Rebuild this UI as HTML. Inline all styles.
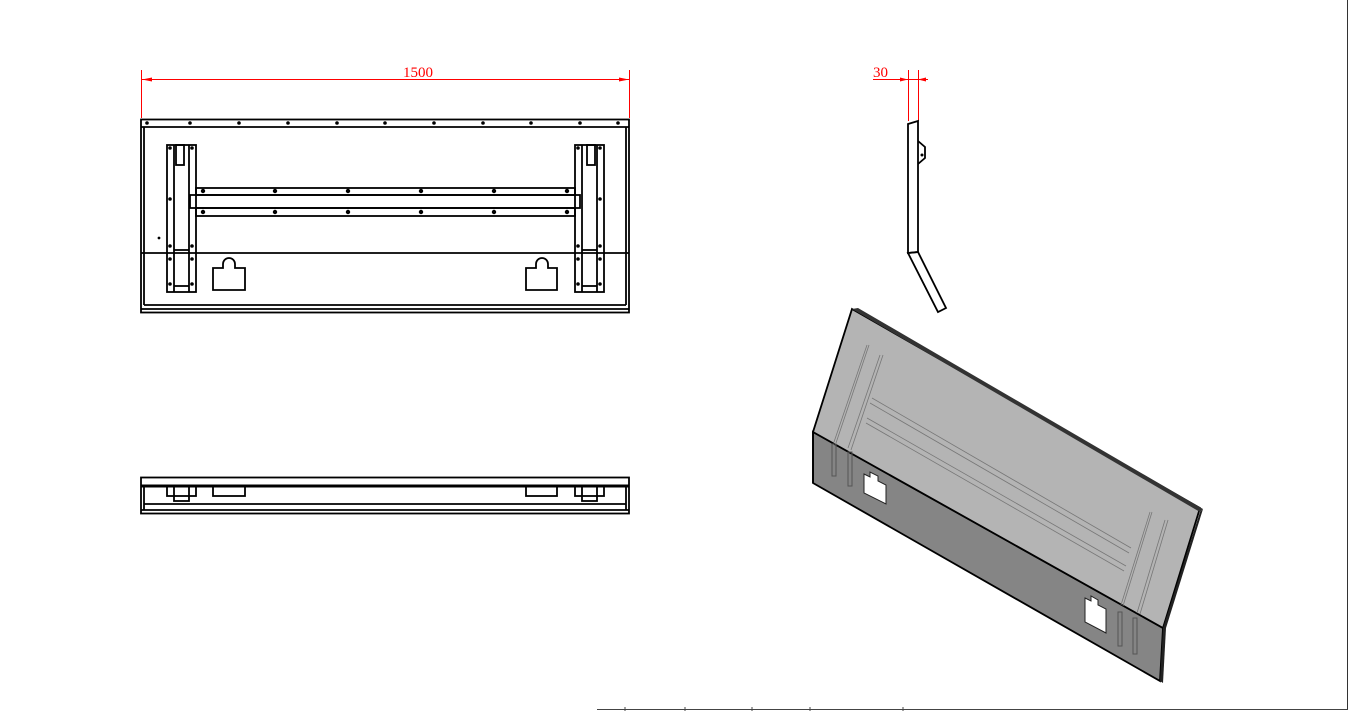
<!DOCTYPE html>
<html><head><meta charset="utf-8"><style>html,body{margin:0;padding:0;background:#fff}svg{display:block}</style></head>
<body>
<svg width="1350" height="711" viewBox="0 0 1350 711" xmlns="http://www.w3.org/2000/svg" font-family="Liberation Serif, serif">
<rect width="1350" height="711" fill="#fff"/>
<line x1="1347.5" y1="0" x2="1347.5" y2="710" stroke="#333" stroke-width="1"/>
<line x1="597" y1="709.5" x2="1348" y2="709.5" stroke="#444" stroke-width="1"/>
<g stroke="#444" stroke-width="1"><line x1="625" y1="707" x2="625" y2="711"/><line x1="685" y1="707" x2="685" y2="711"/><line x1="752" y1="707" x2="752" y2="711"/><line x1="810" y1="707" x2="810" y2="711"/><line x1="903" y1="707" x2="903" y2="711"/></g>

<g stroke="#f00" stroke-width="1" fill="#f00">
<line x1="141.5" y1="70" x2="141.5" y2="118"/>
<line x1="629.5" y1="70" x2="629.5" y2="118"/>
<line x1="142" y1="79.5" x2="629" y2="79.5"/>
<polygon points="142,79.5 152,77.5 152,81.5" stroke="none"/>
<polygon points="629,79.5 619,77.5 619,81.5" stroke="none"/>
</g>
<text x="403" y="77" font-size="15" fill="#f00">1500</text>

<g fill="none" stroke="#000" stroke-width="1.8">
<rect x="141" y="119.5" width="488" height="193"/>
<line x1="141" y1="127" x2="629" y2="127"/>
<line x1="144" y1="127" x2="144" y2="305"/>
<line x1="626" y1="127" x2="626" y2="305"/>
<line x1="144" y1="305" x2="626" y2="305"/>
<line x1="141" y1="309" x2="629" y2="309"/>
<line x1="141" y1="253" x2="629" y2="253"/>
<rect x="167" y="145" width="29" height="147"/>
<line x1="174" y1="145" x2="174" y2="292"/>
<line x1="189" y1="145" x2="189" y2="292"/>
<rect x="176" y="145" width="8" height="20"/>
<line x1="174" y1="250" x2="189" y2="250"/>
<line x1="174" y1="286" x2="189" y2="286"/>
<rect x="575" y="145" width="29" height="147"/>
<line x1="582" y1="145" x2="582" y2="292"/>
<line x1="597" y1="145" x2="597" y2="292"/>
<rect x="587" y="145" width="8" height="20"/>
<line x1="582" y1="250" x2="597" y2="250"/>
<line x1="582" y1="286" x2="597" y2="286"/>
<rect x="196" y="188" width="379" height="7"/>
<rect x="196" y="208" width="379" height="8"/>
<rect x="190" y="195" width="390" height="13"/>
<path d="M213,290 V268 H223 V264 A6,6 0 1 1 235,264 V268 H245 V290 Z"/>
<path d="M526,290 V268 H536 V264 A6,6 0 1 1 548,264 V268 H557 V290 Z"/>
</g>
<g fill="#000">
<circle cx="147" cy="123" r="1.8"/><circle cx="190" cy="123" r="1.8"/><circle cx="239" cy="123" r="1.8"/><circle cx="288" cy="123" r="1.8"/><circle cx="337" cy="123" r="1.8"/><circle cx="385" cy="123" r="1.8"/><circle cx="434" cy="123" r="1.8"/><circle cx="483" cy="123" r="1.8"/><circle cx="531" cy="123" r="1.8"/><circle cx="580" cy="123" r="1.8"/><circle cx="618" cy="123" r="1.8"/>
<circle cx="203" cy="191" r="2.2"/><circle cx="275" cy="191" r="2.2"/><circle cx="348" cy="191" r="2.2"/><circle cx="421" cy="191" r="2.2"/><circle cx="494" cy="191" r="2.2"/><circle cx="567" cy="191" r="2.2"/>
<circle cx="203" cy="212" r="2.2"/><circle cx="275" cy="212" r="2.2"/><circle cx="348" cy="212" r="2.2"/><circle cx="421" cy="212" r="2.2"/><circle cx="494" cy="212" r="2.2"/><circle cx="567" cy="212" r="2.2"/>
<circle cx="170" cy="148" r="1.8"/><circle cx="192" cy="148" r="1.8"/><circle cx="170" cy="199" r="1.8"/><circle cx="170" cy="246" r="1.8"/><circle cx="192" cy="246" r="1.8"/><circle cx="170" cy="259" r="1.8"/><circle cx="192" cy="259" r="1.8"/><circle cx="170" cy="284" r="1.8"/><circle cx="192" cy="284" r="1.8"/>
<circle cx="578" cy="148" r="1.8"/><circle cx="600" cy="148" r="1.8"/><circle cx="600" cy="199" r="1.8"/><circle cx="578" cy="246" r="1.8"/><circle cx="600" cy="246" r="1.8"/><circle cx="578" cy="259" r="1.8"/><circle cx="600" cy="259" r="1.8"/><circle cx="578" cy="284" r="1.8"/><circle cx="600" cy="284" r="1.8"/>
<circle cx="159" cy="238" r="1.4"/>
</g>

<g fill="none" stroke="#000" stroke-width="1.8">
<rect x="141" y="477.5" width="488" height="36"/>
<line x1="141" y1="486" x2="629" y2="486" stroke-width="3"/>
<line x1="144" y1="486" x2="144" y2="510"/>
<line x1="626" y1="486" x2="626" y2="510"/>
<line x1="144" y1="504" x2="626" y2="504"/>
<line x1="141" y1="510" x2="629" y2="510"/>
<rect x="167" y="486" width="29" height="10"/>
<rect x="174" y="486" width="15" height="15"/>
<rect x="575" y="486" width="29" height="10"/>
<rect x="582" y="486" width="15" height="15"/>
<rect x="213" y="486" width="32" height="10"/>
<rect x="526" y="486" width="31" height="10"/>
</g>

<g stroke="#f00" stroke-width="1" fill="#f00">
<line x1="908.5" y1="70" x2="908.5" y2="121"/>
<line x1="918.5" y1="70" x2="918.5" y2="121"/>
<line x1="873" y1="79.5" x2="928" y2="79.5"/>
<polygon points="908,79.5 900,77.5 900,81.5" stroke="none"/>
<polygon points="918,79.5 926,77.5 926,81.5" stroke="none"/>
</g>
<text x="873" y="77" font-size="15" fill="#f00">30</text>
<g fill="none" stroke="#000" stroke-width="1.8">
<path d="M908,124 L918,121 L918,252 L908,253 Z"/>
<path d="M918,141 L925,147 L925,158 L918,164"/>
<path d="M908,253 L918,252 L946,308 L938,312 Z"/>
</g>
<circle cx="922" cy="155" r="1.5" fill="#000"/>

<polygon points="813,432 1163,628 1160,681 813,483" fill="#858585" stroke="#000" stroke-width="1.8"/>
<polygon points="852,309 1200,508 1163,628 813,432" fill="#b4b4b4" stroke="#000" stroke-width="1.8"/>
<polygon points="852,309 858,308 1203,509 1200,512" fill="#333"/>
<polygon points="1200,512 1203,509 1166,628 1163,628" fill="#222"/>
<polygon points="1163,628 1166,628 1163,683 1160,681" fill="#222"/>
<g stroke="#777" stroke-width="0.8" fill="none">
<line x1="867" y1="345" x2="834" y2="442"/><line x1="869" y1="345" x2="836" y2="443"/>
<line x1="880" y1="355" x2="848" y2="448"/><line x1="883" y1="355" x2="851" y2="450"/>
<line x1="872" y1="398" x2="1131" y2="548"/><line x1="870" y1="403" x2="1129" y2="553"/>
<line x1="867" y1="418" x2="1126" y2="566"/><line x1="866" y1="423" x2="1124" y2="571"/>
<line x1="1150" y1="512" x2="1121" y2="605"/><line x1="1152" y1="512" x2="1123" y2="606"/>
<line x1="1165" y1="520" x2="1137" y2="613"/><line x1="1168" y1="520" x2="1140" y2="614"/>
</g>
<g stroke="#555" stroke-width="1" fill="none">
<rect x="832" y="444" width="4" height="32"/><rect x="848" y="452" width="4" height="34"/>
<rect x="1118" y="612" width="4" height="34"/><rect x="1133" y="618" width="4" height="36"/>
</g>
<path d="M864,474 L870,477 L870,472 L878,476 L878,481 L886,485 L886,504 L864,493 Z" fill="#fff" stroke="#222" stroke-width="1"/>
<path d="M1085,598 L1091,601 L1091,596 L1098,600 L1098,605 L1106,609 L1106,633 L1085,622 Z" fill="#fff" stroke="#222" stroke-width="1"/>
<line x1="813" y1="432" x2="813" y2="483" stroke="#000" stroke-width="1.8"/>
</svg>
</body></html>
